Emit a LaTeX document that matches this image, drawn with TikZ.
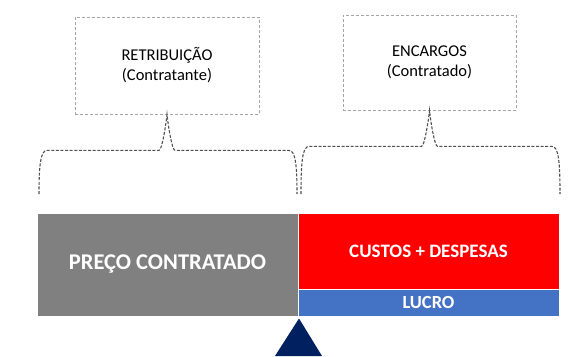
\documentclass[tikz,border=0pt]{standalone}
\usepackage{fontspec}
\setmainfont{Carlito}
\usetikzlibrary{calc}
\definecolor{gray1}{RGB}{128,128,128}
\definecolor{red1}{RGB}{255,0,0}
\definecolor{blue1}{RGB}{68,114,196}
\definecolor{navy1}{RGB}{0,32,96}
\definecolor{dash1}{RGB}{165,165,165}
\definecolor{dash2}{RGB}{80,80,80}

\begin{document}
\begin{tikzpicture}[x=1pt, y=-1pt,
  labelbox/.style={draw=dash1, dash pattern=on 3pt off 2pt, line width=.8pt, align=center, inner sep=0pt,
    font=\fontsize{16.5}{20}\selectfont},
  bar/.style={draw=white, line width=1pt, text=white, inner sep=0pt, minimum width=261pt,
    font=\bfseries\fontsize{19}{22}\selectfont},
  braceline/.style={draw=dash2, dash pattern=on 3pt off 1.6pt, line width=1.1pt}]
  \useasboundingbox (0,0) rectangle (580,356);

  \node[labelbox, minimum width=184pt, minimum height=97pt] (retrib) at (167,65.5) {RETRIBUIÇÃO\\(Contratante)};
  \node[labelbox, minimum width=173pt, minimum height=95pt] (encargos) at (429.5,62.5) {ENCARGOS\\(Contratado)};

  \node[bar, fill=gray1, minimum height=103pt, font=\bfseries\fontsize{22.5}{26}\selectfont] (preco) at (167.5,264.5) {PREÇO CONTRATADO};
  \node[bar, fill=red1, minimum height=76pt] (custos) at (428.5,251) {CUSTOS + DESPESAS};
  \node[bar, fill=blue1, minimum height=27pt, font=\bfseries\fontsize{18.5}{22}\selectfont] (lucro) at (428.5,302.5) {LUCRO};

  % leg ends of the braces
  \coordinate (retrib-l) at (39,194);
  \coordinate (retrib-r) at (297,194);
  \coordinate (encargos-l) at (301,194);
  \coordinate (encargos-r) at (560,194);

  \foreach \tip in {retrib, encargos}
    \draw[braceline] let \p1=(\tip.south), \p2=(\tip-l), \p3=(\tip-r) in
      (\p2) .. controls (\x2,\y1-51pt) and (\x2+1.5pt,\y1-36pt) .. (\x2+8pt,\y1-36pt)
      -- (\x1-8pt,\y1-36pt) .. controls (\x1-5pt,\y1-36pt) and (\x1-1pt,\y1-10pt) .. (\p1)
      .. controls (\x1+1pt,\y1-10pt) and (\x1+5pt,\y1-36pt) .. (\x1+8pt,\y1-36pt)
      -- (\x3-8pt,\y1-36pt) .. controls (\x3-1.5pt,\y1-36pt) and (\x3,\y1-51pt) .. (\p3);

  \coordinate (apex) at ($(preco.south east)+(0.5,2)$);
  \fill[navy1] (apex) -- (275,356) -- (322,356) -- cycle;
\end{tikzpicture}
\end{document}
